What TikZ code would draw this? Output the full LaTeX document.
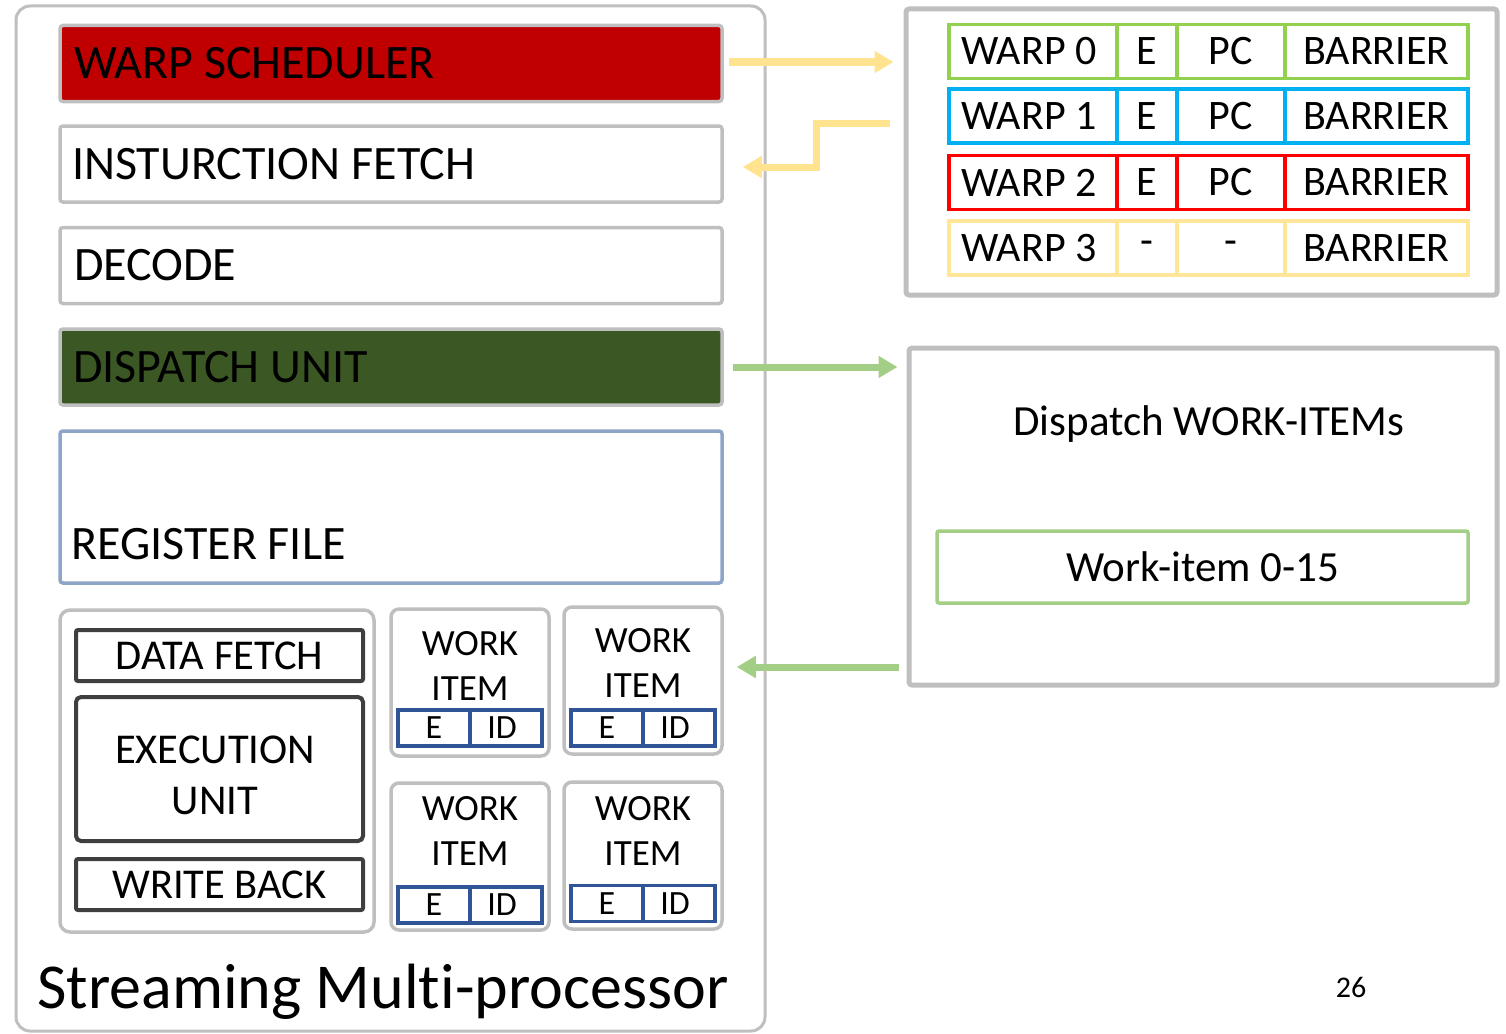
\documentclass[tikz,border=0pt]{standalone}
\usepackage{fontspec}
\setmainfont{Carlito}[Ligatures=NoCommon]
\usetikzlibrary{arrows.meta}
\definecolor{framegray}{HTML}{BFBFBF}
\definecolor{schedred}{HTML}{C00000}
\definecolor{dispgreen}{HTML}{3A5724}
\definecolor{regblue}{HTML}{8EA4C8}
\definecolor{unitdark}{HTML}{3F3F3F}
\definecolor{idblue}{HTML}{2F5597}
\definecolor{wgreen}{HTML}{92D050}
\definecolor{wblue}{HTML}{00B0F0}
\definecolor{wred}{HTML}{FF0000}
\definecolor{wyellow}{HTML}{FFE699}
\definecolor{arrowyellow}{HTML}{FFE38F}
\definecolor{arrowgreen}{HTML}{A3CE86}
\newcommand{\fs}[1]{\fontsize{#1}{#1}\selectfont}
\begin{document}
\begin{tikzpicture}[x=1pt,y=-1pt,
  frame/.style={draw=framegray, line width=3.5pt, rounded corners=3pt, inner sep=0pt},
  stage/.style={frame, minimum height=76pt, text width=634pt, inner xsep=14pt,
    align=flush left, font=\fs{48}},
  unitbox/.style={draw=unitdark, line width=4pt, rounded corners=2pt,
    minimum width=287pt, font=\fontsize{42.5}{51}\selectfont, align=center, inner sep=0pt},
  wibox/.style={frame, rounded corners=8pt, minimum width=158pt},
  witext/.style={font=\fontsize{37}{45}\selectfont, align=center, inner sep=0pt},
  idcell/.style={draw=idblue, line width=3.5pt, minimum width=72pt, minimum height=36pt,
    inner sep=0pt, font=\fs{34}},
  cell/.style={line width=3.5pt, minimum height=54pt, inner sep=0pt, font=\fs{42}},
  connector/.style={line width=7pt, -{Triangle[length=19pt,width=21pt]}},
  yarrow/.style={connector, draw=arrowyellow},
  garrow/.style={connector, draw=arrowgreen}
]
\useasboundingbox (0,0) rectangle (1506,1033);

% Streaming multiprocessor outline
\node[draw=framegray, line width=3pt, rounded corners=14pt, minimum width=749pt,
  minimum height=1025pt] (sm) at (390.5,518.5) {};

% pipeline stages
\node[stage, fill=schedred] (ws) at (391,63.5) {WARP SCHEDULER};
\node[stage, inner xsep=12pt, text width=638pt] (ifetch) at (391,164) {INSTURCTION FETCH};
\node[stage] (dec) at (391,265.5) {DECODE};
\node[stage, fill=dispgreen, inner xsep=13pt, text width=636pt] (du) at (391,367) {DISPATCH UNIT};
\node[frame, draw=regblue, minimum width=662pt, minimum height=152pt] (rf) at (391,507) {};
\node[anchor=base west, font=\fs{48}, inner sep=0pt] (rftext) at (71,559) {REGISTER FILE};

% execution group
\node[frame, rounded corners=10pt, minimum width=314pt, minimum height=322pt] (grp) at (217,771) {};
\node[unitbox, minimum height=51pt] (dfetch) at (219.5,655.5) {DATA FETCH};
\node[unitbox, minimum height=144pt, rounded corners=5pt] (exec) at (219.5,769) {};
\node[font=\fontsize{42.5}{51}\selectfont, align=center, inner sep=0pt] (exectext)
  at (215,775) {EXECUTION\\UNIT};
\node[unitbox, minimum height=51pt] (wback) at (219.5,884.5) {WRITE BACK};

% work items
\foreach \n/\cx/\cy/\ty/\by in {1/470/682.5/665.5/728, 2/643/680.5/662.5/728,
                                3/470/856.5/830.5/905, 4/643/855.5/830.5/903.5}{
  \node[wibox, minimum height=147pt] (wi\n) at (\cx,\cy) {};
  \node[witext] (wi\n t) at (\cx,\ty) {WORK\\ITEM};
  \node[idcell] (wi\n e) at (\cx-36,\by) {E};
  \node[idcell] (wi\n id) at (\cx+36,\by) {\hspace*{-8pt}ID};
}

% warp table
\node[frame, line width=5pt, minimum width=591pt, minimum height=286pt] (tbl) at (1201.5,152) {};
\foreach \r/\yc/\col/\a/\b/\c in {0/51.5/wgreen/WARP 0/E/PC, 1/116/wblue/WARP 1/E/PC,
                                  2/182.5/wred/WARP 2/E/PC, 3/248/wyellow/WARP 3/-/-}{
  \node[cell, draw=\col, minimum width=168pt] (w\r n) at (1033,\yc) {\a\hspace*{8pt}};
  \node[cell, draw=\col, minimum width=60pt] (w\r e) at (1147,\yc) {\b};
  \node[cell, draw=\col, minimum width=108pt] (w\r p) at (1231,\yc) {\c};
  \node[cell, draw=\col, minimum width=183pt] (w\r b) at (1376.5,\yc) {BARRIER};
}

% dispatch panel
\node[frame, line width=5pt, minimum width=588pt, minimum height=337pt] (dsp) at (1203,516.5) {};
\node[font=\fs{43}, inner sep=0pt] (dsptext) at (1209,424) {Dispatch WORK-ITEMs};
\node[draw=arrowgreen, line width=3.5pt, rounded corners=2pt, minimum width=531pt,
  minimum height=72pt, font=\fs{43}] (witems) at (1202.5,567) {Work-item 0-15};

% title and page number
\node[anchor=base west, font=\fs{64}, inner sep=0pt] (title) at (37,1008) {Streaming Multi-processor};
\node[font=\fs{30}, inner sep=0pt] (page) at (1351,987) {26};

% connectors
\coordinate (bendA) at (816,123);
\coordinate (bendB) at (816,167);
\coordinate (ret) at (0,667);
\draw[yarrow, shorten <=5pt, shorten >=10pt] (ws.east |- 0,62) -- (tbl.west |- 0,62);
\draw[yarrow, shorten >=19pt] (tbl.west |- bendA) ++(-14,0) -- (bendA) -- (bendB) -- (ifetch.east |- bendB);
\draw[garrow, shorten <=9pt, shorten >=9pt] (du.east) -- (du.east -| dsp.west);
\draw[garrow, shorten <=8pt, shorten >=13pt] (dsp.west |- ret) -- (wi2.east |- ret);
\end{tikzpicture}
\end{document}
